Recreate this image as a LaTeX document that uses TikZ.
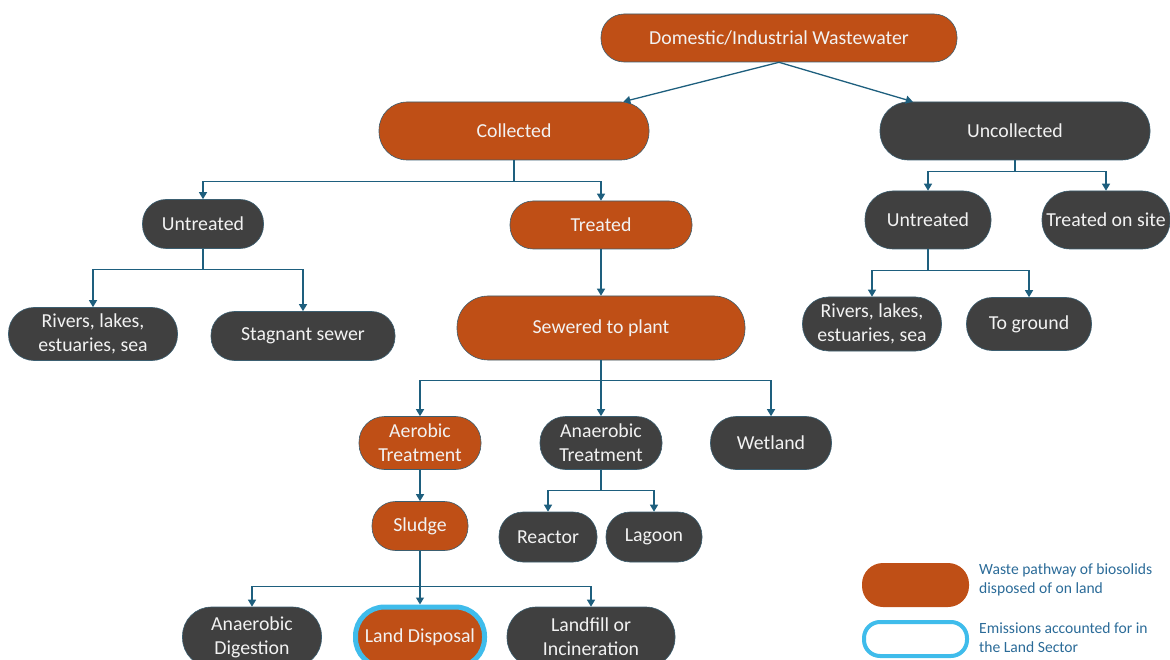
\documentclass[tikz,border=0pt]{standalone}
\usepackage{fontspec}
\setmainfont{Carlito}
\usepackage{xcolor}
\usetikzlibrary{arrows.meta, positioning}

\definecolor{rust}{HTML}{BF4F16}
\definecolor{slate}{HTML}{404040}
\definecolor{rim}{HTML}{3B5E70}
\definecolor{wire}{HTML}{1E5F7E}
\definecolor{ring}{HTML}{3FBCEB}
\definecolor{keytxt}{HTML}{2B6B98}

\tikzset{
	box/.style={draw=rim, line width=0.6pt, text=white!95!black, align=center,
		inner sep=0pt, font=\fontsize{19.8}{24}\selectfont},
	land/.style={box, fill=rust},
	other/.style={box, fill=slate},
	wh/.style 2 args={minimum width=#1, minimum height=#2, rounded corners=#2/2-1},
	link/.style={draw=wire, line width=1.3pt, -{Triangle[width=8pt,length=7pt]}},
	keytext/.style={anchor=west, align=left, text=keytxt, inner sep=0pt,
		font=\fontsize{15.6}{19}\selectfont},
}

\begin{document}
\begin{tikzpicture}[x=1pt, y=-1pt]
			\useasboundingbox (0,0) rectangle (1170,660);

			% top levels
			\node [land, wh={356}{48}] (dom) at (779,38) {Domestic/Industrial Wastewater};
			\node [land, wh={270}{58}] (coll) at (514,131) {Collected};
			\node [other, wh={270}{58}] (uncoll) at (1015,131) {Uncollected};

			\node [other, wh={121}{49}] (untrL) at (203,224) {Untreated};
			\node [land, wh={182}{48}] (treat) at (601,225) {Treated};
			\node [other, wh={126}{58}] (untrR) at (928,220) {Untreated};
			\node [other, wh={128}{58}] (onsite) at (1106,220) {Treated on site};

			\node [other, wh={169}{53}] (riverL) at (93,334) {Rivers, lakes,\\estuaries, sea};
			\node [other, wh={184}{49}] (sewer) at (303,336) {Stagnant sewer};
			\node [land, wh={288}{64}] (plant) at (601,328) {Sewered to plant};
			\node [other, wh={139}{54}] (riverR) at (872,324) {Rivers, lakes,\\estuaries, sea};
			\node [other, wh={125}{53}] (ground) at (1029,324) {To ground};

			% treatment
			\node [land, wh={122}{53}] (aero) at (420,443) {Aerobic\\Treatment};
			\node [other, wh={122}{53}] (anaero) at (601,443) {Anaerobic\\Treatment};
			\node [other, wh={121}{53}] (wet) at (771,443) {Wetland};
			\node [land, wh={96}{49}] (sludge) at (420,526) {Sludge};
			\node [other, wh={98}{50}] (reactor) at (548,537) {Reactor};
			\node [other, wh={96}{50}] (lagoon) at (654,537) {Lagoon};

			% bottom row runs past the page edge
			\node [other, wh={139}{60}] (digest) at (252,637) {Anaerobic\\Digestion};
			\node [land, draw=ring, line width=5pt, wh={129}{60}] (disposal) at (420,637) {Land Disposal};
			\node [other, wh={168}{60}] (landfill) at (591,637) {Landfill or\\Incineration};

			% legend
			\node [land, draw=none, wh={107}{44}] (keyA) at (915.5,585) {};
			\node [box, draw=ring, line width=4pt, fill=white, wh={103}{34}] (keyB) at (915.5,639) {};
			\node [keytext] (keyAtxt) at (979,580) {Waste pathway of biosolids\\disposed of on land};
			\node [keytext] (keyBtxt) at (979,638) {Emissions accounted for in\\the Land Sector};

			% connectors
			\draw [link] (dom.south) -- (coll.15);
			\draw [link] (dom.south) -- (uncoll.164);

			\begin{scope}[link]
				\draw (coll.south) -- ++(0,21) -| (untrL.north);
				\draw (coll.south) -- ++(0,21) -| (treat.north);
				\draw (uncoll.south) -- ++(0,11) -| (untrR.north);
				\draw (uncoll.south) -- ++(0,11) -| (onsite.north);
				\draw (untrL.south) -- ++(0,21) -| (riverL.north);
				\draw (untrL.south) -- ++(0,21) -| (sewer.north);
				\draw (treat.south) -- (plant.north);
				\draw (untrR.south) -- ++(0,21) -| (riverR.north);
				\draw (untrR.south) -- ++(0,21) -| (ground.north);
				\draw (plant.south) -- ++(0,20) -| (aero.north);
				\draw (plant.south) -- (anaero.north);
				\draw (plant.south) -- ++(0,20) -| (wet.north);
				\draw (aero.south) -- (sludge.north);
				\draw (anaero.south) -- ++(0,21) -| (reactor.north);
				\draw (anaero.south) -- ++(0,21) -| (lagoon.north);
				\draw (sludge.south) -- ++(0,36) -| (digest.north);
				\draw (sludge.south) -- (disposal.north);
				\draw (sludge.south) -- ++(0,36) -| (landfill.north);
			\end{scope}
		\end{tikzpicture}
\end{document}
